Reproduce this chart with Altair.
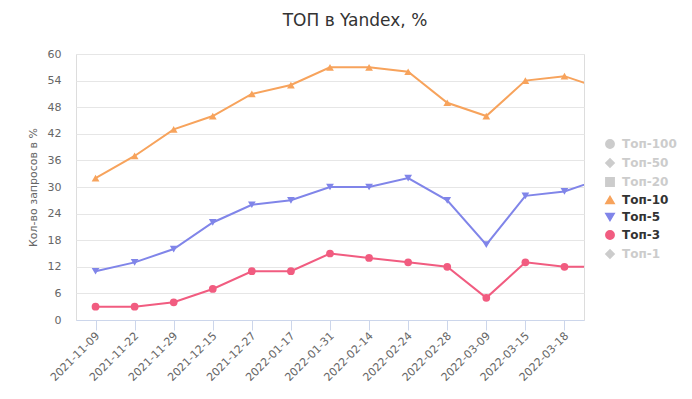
import json
import altair as alt
import pandas as pd

dates = ["2021-11-09", "2021-11-22", "2021-11-29", "2021-12-15", "2021-12-27",
         "2022-01-17", "2022-01-31", "2022-02-14", "2022-02-24", "2022-02-28",
         "2022-03-09", "2022-03-15", "2022-03-18"]
# last value belongs to the next (clipped) date beyond the visible range
top10 = [32, 37, 43, 46, 51, 53, 57, 57, 56, 49, 46, 54, 55, 52]
top5 = [11, 13, 16, 22, 26, 27, 30, 30, 32, 27, 17, 28, 29, 32]
top3 = [3, 3, 4, 7, 11, 11, 15, 14, 13, 12, 5, 13, 12, 12]

series_names = ["Топ-100", "Топ-50", "Топ-20", "Топ-10", "Топ-5", "Топ-3", "Топ-1"]
series_colors = ["#cccccc", "#cccccc", "#cccccc", "#f7a35c", "#8085e9", "#f15c80", "#cccccc"]
series_shapes = ["circle", "diamond", "square", "triangle-up", "triangle-down", "circle", "diamond"]
visible = ["Топ-10", "Топ-5", "Топ-3"]

rows = []
for name, vals in [("Топ-10", top10), ("Топ-5", top5), ("Топ-3", top3)]:
    for i, v in enumerate(vals):
        rows.append({"idx": i, "value": v, "series": name})
df = pd.DataFrame(rows)

FONT = "DejaVu Sans"

x = alt.X(
    "idx:Q",
    scale=alt.Scale(domain=[-0.5, len(dates) - 0.5], nice=False, zero=False),
    axis=alt.Axis(
        values=list(range(len(dates))),
        labelExpr=json.dumps(dates, ensure_ascii=False) + "[datum.value]",
        labelAngle=-45,
        labelAlign="right",
        labelBaseline="middle",
        labelPadding=4,
        labelOffset=2,
        labelFontSize=11,
        labelColor="#666666",
        labelFont=FONT,
        grid=False,
        domainColor="#ccd6eb",
        tickColor="#ccd6eb",
        tickSize=10,
        title=None,
        labelOverlap=False,
    ),
)
y = alt.Y(
    "value:Q",
    scale=alt.Scale(domain=[0, 60], nice=False),
    axis=alt.Axis(
        values=[0, 6, 12, 18, 24, 30, 36, 42, 48, 54, 60],
        title="Кол-во запросов в %",
        titleFont=FONT,
        titleFontSize=11,
        titleFontWeight="normal",
        titleColor="#666666",
        titleX=-43,
        titleY=133,
        titleBaseline="middle",
        labelFontSize=11,
        labelColor="#666666",
        labelFont=FONT,
        labelPadding=15,
        ticks=False,
        domain=False,
        gridColor="#e6e6e6",
    ),
)

legend = alt.Legend(
    title=None,
    orient="none",
    legendX=528,
    legendY=84,
    labelFont=FONT,
    labelFontSize=12,
    labelFontWeight="bold",
    labelColor=alt.ExprRef(
        expr="indexof(" + json.dumps(visible, ensure_ascii=False) + ", datum.value) >= 0 ? '#333333' : '#cccccc'"
    ),
    symbolSize=70,
    rowPadding=3,
    labelOffset=6,
)

color = alt.Color("series:N", scale=alt.Scale(domain=series_names, range=series_colors), legend=legend)
shape = alt.Shape("series:N", scale=alt.Scale(domain=series_names, range=series_shapes), legend=legend)

base = alt.Chart(df)
lines = base.mark_line(strokeWidth=2, clip=True).encode(x=x, y=y, color=color, detail="series:N")
points = base.mark_point(filled=True, size=60, opacity=1, clip=True).encode(x=x, y=y, color=color, shape=shape)

chart = (
    alt.layer(lines, points)
    .properties(
        width=508,
        height=266,
        autosize=alt.AutoSizeParams(type="none"),
        padding={"left": 68, "top": 46, "right": 100, "bottom": 71},
        title=alt.TitleParams(
            "ТОП в Yandex, %",
            font="DejaVu Sans",
            fontSize=17,
            fontWeight="normal",
            color="#333333",
            anchor="middle",
            dx=25,
            offset=18,
        ),
    )
    .configure_view(stroke=None)
    .configure(background="white")
)

chart.save("out.html", embed_options={"renderer": "svg", "actions": False})
